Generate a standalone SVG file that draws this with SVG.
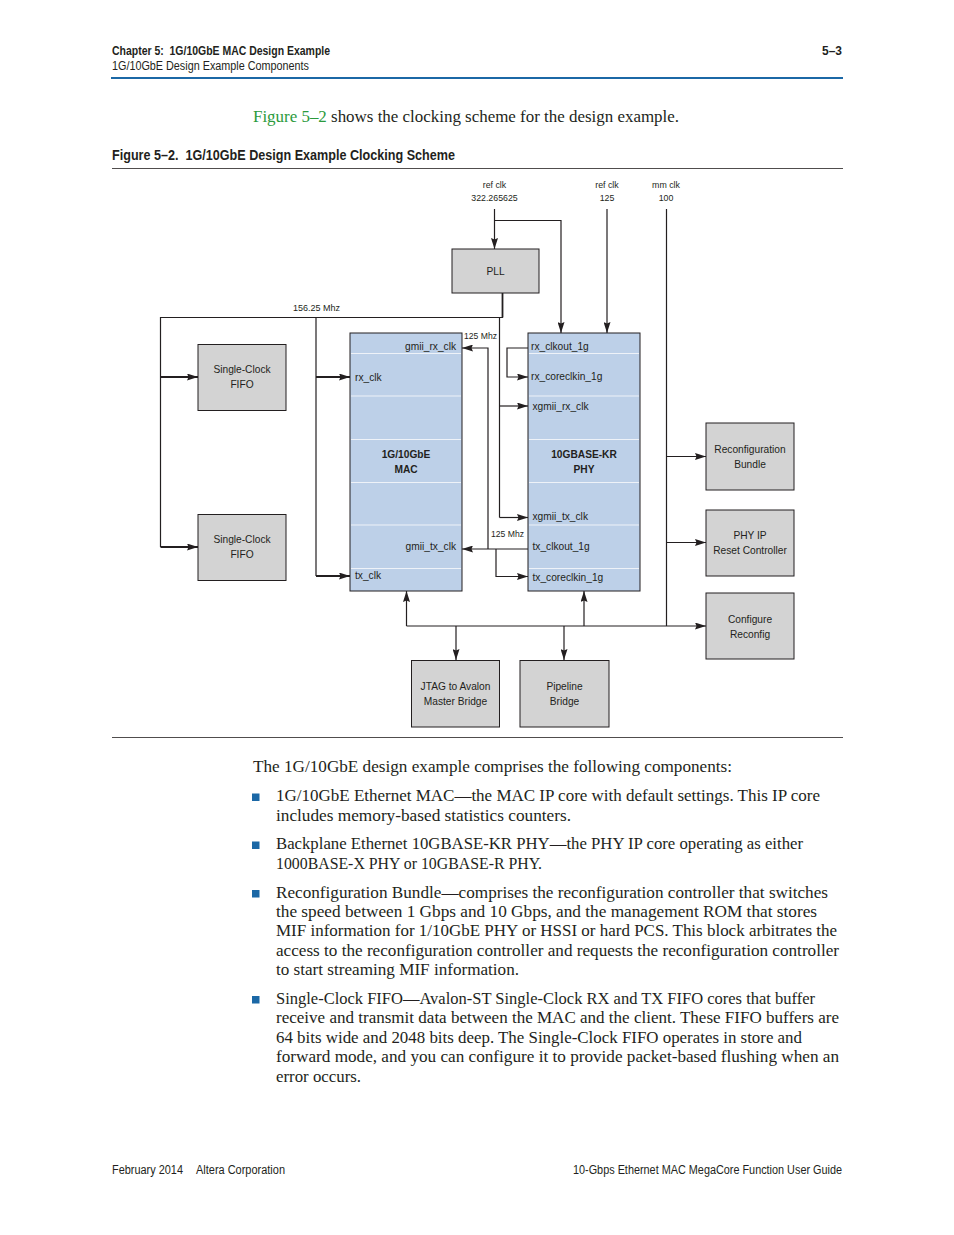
<svg xmlns="http://www.w3.org/2000/svg" width="954" height="1235" viewBox="0 0 954 1235">
<style>
.hd{font-family:"Liberation Sans Narrow","Liberation Sans",Arial,sans-serif;fill:#231f20}
.body{font-family:"Liberation Serif","Times New Roman",serif;font-size:16px;fill:#231f20}
.lbl{font-family:"Liberation Sans",Arial,sans-serif;font-size:10.2px;fill:#231f20}
.sm{font-size:8.8px}
.bd{font-weight:bold}
.mid{text-anchor:middle}
.gbox{fill:#d3d3d3;stroke:#231f20;stroke-width:1}
.bbox{fill:#bdd0e8;stroke:#231f20;stroke-width:1}
.div{stroke:#eef2f8;stroke-width:1}
.ln{fill:none;stroke:#231f20;stroke-width:1.2}
.th{stroke-width:1.8}
.arr{marker-end:url(#ah)}
.bul{fill:#1b68a6}
</style>
<defs>
<marker id="ah" markerUnits="userSpaceOnUse" markerWidth="11" markerHeight="7" refX="11" refY="3.5" orient="auto">
<path d="M0,0 L11,3.5 L0,7 L1.5,3.5 z" fill="#231f20"/>
</marker>
</defs>
<rect width="954" height="1235" fill="#ffffff"/>

<!-- page header -->
<g id="header">
<text class="hd bd" x="112" y="54.5" font-size="12" textLength="218" lengthAdjust="spacingAndGlyphs">Chapter 5:&#160; 1G/10GbE MAC Design Example</text>
<text class="hd" x="112" y="69.5" font-size="12" textLength="197" lengthAdjust="spacingAndGlyphs">1G/10GbE Design Example Components</text>
<text class="hd bd" x="842" y="54.5" font-size="12" text-anchor="end" textLength="20" lengthAdjust="spacingAndGlyphs">5–3</text>
<rect x="111" y="77" width="732" height="2" fill="#1b68a6"/>
</g>

<text class="body" x="253" y="122" textLength="426" lengthAdjust="spacingAndGlyphs"><tspan fill="#2b9a3c">Figure 5–2</tspan> shows the clocking scheme for the design example.</text>
<text class="hd bd" x="112" y="159.5" font-size="14" textLength="343" lengthAdjust="spacingAndGlyphs">Figure 5–2.&#160; 1G/10GbE Design Example Clocking Scheme</text>
<line x1="112" y1="168.5" x2="843" y2="168.5" stroke="#231f20" stroke-width="0.8"/>
<line x1="112" y1="737.5" x2="843" y2="737.5" stroke="#231f20" stroke-width="0.8"/>

<!-- clock source labels -->
<g id="clk-labels">
<text class="lbl sm mid" x="494.5" y="187.5">ref clk</text>
<text class="lbl sm mid" x="494.5" y="200.5">322.265625</text>
<text class="lbl sm mid" x="607" y="187.5">ref clk</text>
<text class="lbl sm mid" x="607" y="200.5">125</text>
<text class="lbl sm mid" x="666" y="187.5">mm clk</text>
<text class="lbl sm mid" x="666" y="200.5">100</text>
<text class="lbl sm" x="293" y="311" textLength="47" lengthAdjust="spacingAndGlyphs">156.25 Mhz</text>
<text class="lbl sm" x="464" y="338.5" textLength="33" lengthAdjust="spacingAndGlyphs">125 Mhz</text>
<text class="lbl sm" x="491" y="537" textLength="33" lengthAdjust="spacingAndGlyphs">125 Mhz</text>
</g>

<!-- connectors -->
<g id="connectors">
<line class="ln arr" x1="494.5" y1="209" x2="494.5" y2="249"/>
<polyline class="ln arr" points="494.5,220.5 561,220.5 561,333"/>
<line class="ln arr" x1="607" y1="209" x2="607" y2="333"/>
<line class="ln" x1="666.5" y1="209" x2="666.5" y2="626"/>
<line class="ln arr" x1="666.5" y1="456.5" x2="706" y2="456.5"/>
<line class="ln arr" x1="666.5" y1="542.5" x2="706" y2="542.5"/>
<line class="ln arr" x1="406.5" y1="626" x2="706" y2="626"/>
<polyline class="ln th" points="502.5,293 502.5,317.5"/>
<polyline class="ln" points="503,317.5 160.5,317.5 160.5,547"/>
<line class="ln th arr" x1="160.5" y1="377" x2="198" y2="377"/>
<line class="ln th arr" x1="160.5" y1="547" x2="198" y2="547"/>
<line class="ln" x1="316" y1="317.5" x2="316" y2="576"/>
<line class="ln th arr" x1="316" y1="377" x2="350" y2="377"/>
<line class="ln th arr" x1="316" y1="576" x2="350" y2="576"/>
<line class="ln" x1="499.5" y1="317.5" x2="499.5" y2="517.5"/>
<line class="ln arr" x1="499.5" y1="406" x2="528" y2="406"/>
<line class="ln arr" x1="499.5" y1="517.5" x2="528" y2="517.5"/>
<polyline class="ln arr" points="528,348 507,348 507,377 528,377"/>
<line class="ln arr" x1="528" y1="549" x2="462" y2="549"/>
<polyline class="ln arr" points="488,549 488,348 462,348"/>
<polyline class="ln arr" points="496,549 496,576.5 528,576.5"/>
<line class="ln arr" x1="406.5" y1="626" x2="406.5" y2="591"/>
<line class="ln arr" x1="584" y1="626" x2="584" y2="591"/>
<line class="ln arr" x1="456" y1="626" x2="456" y2="660"/>
<line class="ln arr" x1="564" y1="626" x2="564" y2="660"/>
</g>

<g id="pll">
<rect class="gbox" x="452" y="249" width="87" height="44"/>
<text class="lbl mid" x="495.5" y="274.5">PLL</text>
</g>

<g id="fifo-rx">
<rect class="gbox" x="198" y="344.5" width="88" height="66"/>
<text class="lbl mid" x="242" y="372.5">Single-Clock</text>
<text class="lbl mid" x="242" y="387.5">FIFO</text>
</g>

<g id="fifo-tx">
<rect class="gbox" x="198" y="514.5" width="88" height="66"/>
<text class="lbl mid" x="242" y="542.5">Single-Clock</text>
<text class="lbl mid" x="242" y="557.5">FIFO</text>
</g>

<g id="mac">
<rect class="bbox" x="350" y="333" width="112" height="258"/>
<line class="div" x1="351" y1="353.5" x2="461" y2="353.5"/>
<line class="div" x1="351" y1="396" x2="461" y2="396"/>
<line class="div" x1="351" y1="439.5" x2="461" y2="439.5"/>
<line class="div" x1="351" y1="482.5" x2="461" y2="482.5"/>
<line class="div" x1="351" y1="525" x2="461" y2="525"/>
<line class="div" x1="351" y1="568.5" x2="461" y2="568.5"/>
<text class="lbl" x="456" y="350" text-anchor="end">gmii_rx_clk</text>
<text class="lbl" x="355" y="380.5">rx_clk</text>
<text class="lbl bd mid" x="406" y="458">1G/10GbE</text>
<text class="lbl bd mid" x="406" y="473">MAC</text>
<text class="lbl" x="456" y="550" text-anchor="end">gmii_tx_clk</text>
<text class="lbl" x="355" y="579">tx_clk</text>
</g>

<g id="phy">
<rect class="bbox" x="528" y="333" width="112" height="258"/>
<line class="div" x1="529" y1="353.5" x2="639" y2="353.5"/>
<line class="div" x1="529" y1="396" x2="639" y2="396"/>
<line class="div" x1="529" y1="439.5" x2="639" y2="439.5"/>
<line class="div" x1="529" y1="482.5" x2="639" y2="482.5"/>
<line class="div" x1="529" y1="525" x2="639" y2="525"/>
<line class="div" x1="529" y1="568.5" x2="639" y2="568.5"/>
<text class="lbl" x="531" y="350">rx_clkout_1g</text>
<text class="lbl" x="531" y="380">rx_coreclkin_1g</text>
<text class="lbl" x="532.5" y="409.5">xgmii_rx_clk</text>
<text class="lbl bd mid" x="584" y="458">10GBASE-KR</text>
<text class="lbl bd mid" x="584" y="473">PHY</text>
<text class="lbl" x="532.5" y="520">xgmii_tx_clk</text>
<text class="lbl" x="532.5" y="550">tx_clkout_1g</text>
<text class="lbl" x="532.5" y="580.5">tx_coreclkin_1g</text>
</g>

<g id="reconfig-bundle">
<rect class="gbox" x="706" y="423" width="88" height="67"/>
<text class="lbl mid" x="750" y="453">Reconfiguration</text>
<text class="lbl mid" x="750" y="467.5">Bundle</text>
</g>

<g id="reset-ctrl">
<rect class="gbox" x="706" y="510" width="88" height="66"/>
<text class="lbl mid" x="750" y="538.5">PHY IP</text>
<text class="lbl mid" x="750" y="553.5">Reset Controller</text>
</g>

<g id="config-reconfig">
<rect class="gbox" x="706" y="593" width="88" height="66"/>
<text class="lbl mid" x="750" y="623">Configure</text>
<text class="lbl mid" x="750" y="637.5">Reconfig</text>
</g>

<g id="jtag">
<rect class="gbox" x="411.5" y="660.5" width="88" height="66.5"/>
<text class="lbl mid" x="455.5" y="689.5">JTAG to Avalon</text>
<text class="lbl mid" x="455.5" y="705">Master Bridge</text>
</g>

<g id="pipeline">
<rect class="gbox" x="520" y="660.5" width="89" height="66.5"/>
<text class="lbl mid" x="564.5" y="689.5">Pipeline</text>
<text class="lbl mid" x="564.5" y="705">Bridge</text>
</g>

<!-- body text -->
<g id="body-text">
<text class="body" x="253" y="772" textLength="479" lengthAdjust="spacingAndGlyphs">The 1G/10GbE design example comprises the following components:</text>
<rect class="bul" x="252" y="793.5" width="7.5" height="7.5"/>
<text class="body" x="276" y="801" textLength="544" lengthAdjust="spacingAndGlyphs">1G/10GbE Ethernet MAC—the MAC IP core with default settings. This IP core</text>
<text class="body" x="276" y="820.5" textLength="295" lengthAdjust="spacingAndGlyphs">includes memory-based statistics counters.</text>
<rect class="bul" x="252" y="841.5" width="7.5" height="7.5"/>
<text class="body" x="276" y="849" textLength="527" lengthAdjust="spacingAndGlyphs">Backplane Ethernet 10GBASE-KR PHY—the PHY IP core operating as either</text>
<text class="body" x="276" y="868.5" textLength="266" lengthAdjust="spacingAndGlyphs">1000BASE-X PHY or 10GBASE-R PHY.</text>
<rect class="bul" x="252" y="890" width="7.5" height="7.5"/>
<text class="body" x="276" y="897.5" textLength="552" lengthAdjust="spacingAndGlyphs">Reconfiguration Bundle—comprises the reconfiguration controller that switches</text>
<text class="body" x="276" y="917" textLength="541" lengthAdjust="spacingAndGlyphs">the speed between 1 Gbps and 10 Gbps, and the management ROM that stores</text>
<text class="body" x="276" y="936" textLength="561" lengthAdjust="spacingAndGlyphs">MIF information for 1/10GbE PHY or HSSI or hard PCS. This block arbitrates the</text>
<text class="body" x="276" y="955.5" textLength="563" lengthAdjust="spacingAndGlyphs">access to the reconfiguration controller and requests the reconfiguration controller</text>
<text class="body" x="276" y="975" textLength="243" lengthAdjust="spacingAndGlyphs">to start streaming MIF information.</text>
<rect class="bul" x="252" y="996" width="7.5" height="7.5"/>
<text class="body" x="276" y="1003.5" textLength="539" lengthAdjust="spacingAndGlyphs">Single-Clock FIFO—Avalon-ST Single-Clock RX and TX FIFO cores that buffer</text>
<text class="body" x="276" y="1023" textLength="563" lengthAdjust="spacingAndGlyphs">receive and transmit data between the MAC and the client. These FIFO buffers are</text>
<text class="body" x="276" y="1042.5" textLength="526" lengthAdjust="spacingAndGlyphs">64 bits wide and 2048 bits deep. The Single-Clock FIFO operates in store and</text>
<text class="body" x="276" y="1062" textLength="563" lengthAdjust="spacingAndGlyphs">forward mode, and you can configure it to provide packet-based flushing when an</text>
<text class="body" x="276" y="1081.5" textLength="85" lengthAdjust="spacingAndGlyphs">error occurs.</text>
</g>

<g id="footer">
<text class="hd" x="112" y="1173.5" font-size="12" textLength="71" lengthAdjust="spacingAndGlyphs">February 2014</text>
<text class="hd" x="196" y="1173.5" font-size="12" textLength="89" lengthAdjust="spacingAndGlyphs">Altera Corporation</text>
<text class="hd" x="573" y="1173.5" font-size="12" textLength="269" lengthAdjust="spacingAndGlyphs">10-Gbps Ethernet MAC MegaCore Function User Guide</text>
</g>
</svg>
